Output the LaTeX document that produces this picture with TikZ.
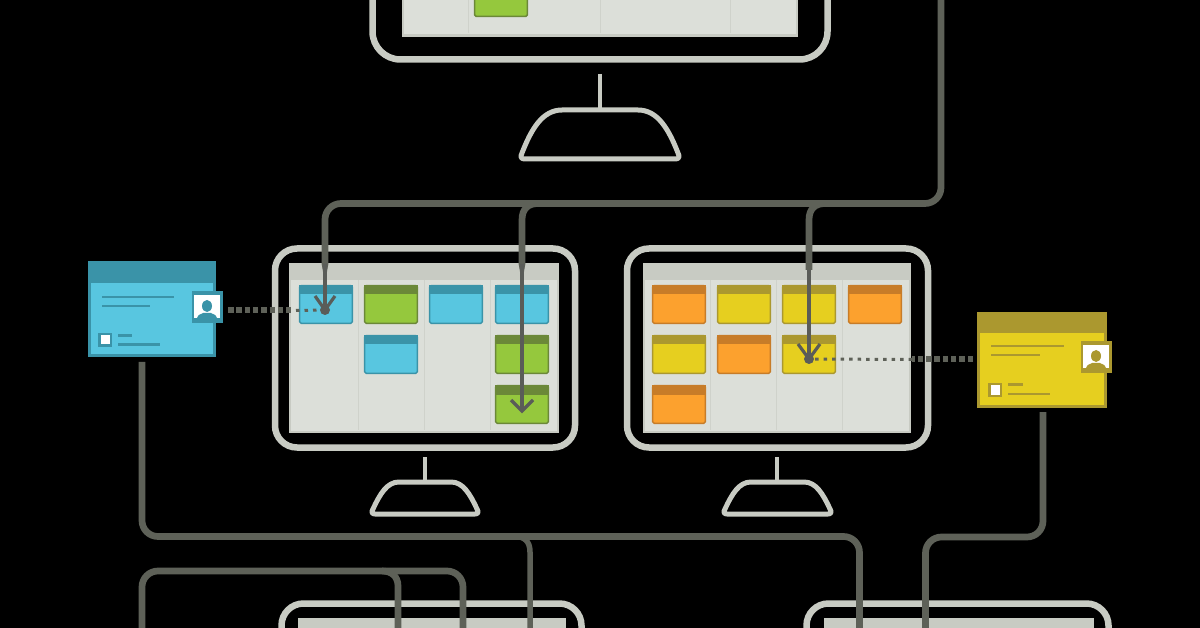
\documentclass[tikz,border=0pt]{standalone}
\definecolor{bluefill}{HTML}{58C6E0}
\definecolor{bluehead}{HTML}{3A93A8}
\definecolor{greenfill}{HTML}{95C83D}
\definecolor{greenhead}{HTML}{6B8838}
\definecolor{orangefill}{HTML}{FCA12E}
\definecolor{orangehead}{HTML}{C77C28}
\definecolor{yellowfill}{HTML}{E6CF1F}
\definecolor{yellowhead}{HTML}{AB982F}
\definecolor{framecol}{HTML}{C8CBC3}
\definecolor{screencol}{HTML}{DCDFD9}
\definecolor{divcol}{HTML}{CFD2CB}
\definecolor{linecol}{HTML}{5E6158}
\definecolor{thincol}{HTML}{5A5C58}
\tikzset{
  x=1pt,y=-1pt,
  framebox/.style={draw=framecol,line width=6.5pt,rounded corners=22pt},
  standline/.style={draw=framecol,line width=5pt,line join=round},
  stemline/.style={draw=framecol,line width=3.5pt},
  conn/.style={draw=linecol,line width=6.7pt,rounded corners=16pt},
  branch/.style={draw=linecol,line width=6.7pt,sharp corners},
  connthin/.style={draw=thincol,line width=3.5pt},
  chevron/.style={draw=thincol,line width=3.2pt,line join=miter},
  dotthick/.style={draw=linecol,line width=6pt,dash pattern=on 5.5pt off 2.8pt},
  dotthin/.style={draw=linecol,line width=3pt,dash pattern=on 3.5pt off 5pt},
  pin/.style={circle,fill=thincol,inner sep=0pt,minimum size=10pt},
}
\newcommand{\kscreen}[4]{%
  \fill[screencol] (#1,#2) rectangle (#3,#4);
  \fill[framecol] (#1,#2) rectangle (#3,#2+16);
  \draw[framecol,line width=2.5pt] (#1+1.2,#2) rectangle (#3-1.2,#4-1.2);
}
\newcommand{\kcard}[3]{%
  \fill[rounded corners=1.5pt,#3fill,draw=#3head,line width=1.5pt] (#1+.7,#2+.7) rectangle (#1+53.3,#2+38.3);
  \fill[#3head] (#1,#2) rectangle (#1+54,#2+9.5);
}
\newcommand{\kbig}[6]{%
  \fill[#6fill,draw=#6head,line width=3pt] (#1+1.5,#2+1.5) rectangle (#3-1.5,#4-1.5);
  \fill[#6head] (#1,#2) rectangle (#3,#5);
}
% avatar: x1 y1 x2 y2 colour centre-x
\newcommand{\kavatar}[6]{%
  \fill[#5head] (#1,#2) rectangle (#3,#4);
  \fill[white] (#1+2,#2+4) rectangle (#3-3,#4-5);
  \fill[#5head] (#6,#2+15) ellipse (5pt and 6pt);
  \fill[#5head] (#6-10,#4-5) .. controls (#6-9,#4-9) and (#6-5,#4-9) .. (#6-4,#4-10) -- (#6+4,#4-10) .. controls (#6+5,#4-9) and (#6+9,#4-9) .. (#6+10,#4-5) -- cycle;
}
% taper: x y
\newcommand{\ktaper}[2]{\fill[linecol] (#1-3.35,#2) -- (#1+3.35,#2) -- (#1+1.75,#2+9) -- (#1-1.75,#2+9) -- cycle;}
\begin{document}
\begin{tikzpicture}
\useasboundingbox (0,0) rectangle (1200,628);
\fill[black] (0,0) rectangle (1200,628);

% ---- top monitor
\kscreen{402}{-60}{798}{36.5}
\foreach \d in {468,600,730} \draw[divcol,line width=1pt] (\d,-5) -- (\d,33);
\fill[rounded corners=1.5pt,greenfill,draw=greenhead,line width=1.5pt] (474.7,-10) rectangle (527.3,16.5);
\draw[framebox,rounded corners=28pt] (372.5,-60) rectangle (827.5,59.5);
\draw[stemline] (600,74) -- (600,109);
\draw[standline] (562,110) .. controls (542,110) and (531,130) .. (522,153) .. controls (520,157) and (521,159) .. (525,159) -- (675,159) .. controls (679,159) and (680,157) .. (678,153) .. controls (669,130) and (658,110) .. (638,110) -- cycle;

% ---- left monitor
\kscreen{289}{264}{559}{433}
\foreach \d in {358,424,490} \draw[divcol,line width=1pt] (\d,280) -- (\d,430);
\kcard{299}{285}{blue}
\kcard{364}{285}{green}
\kcard{429}{285}{blue}
\kcard{495}{285}{blue}
\kcard{364}{335}{blue}
\kcard{495}{335}{green}
\kcard{495}{385}{green}
\draw[framebox] (275,248.5) rectangle (575,447.5);
\draw[stemline] (425,457) -- (425,481);
\draw[standline] (399,482) .. controls (387,482) and (380,494) .. (373,509) .. controls (371,512) and (372,514) .. (375,514) -- (475,514) .. controls (478,514) and (479,512) .. (477,509) .. controls (470,494) and (463,482) .. (451,482) -- cycle;

% ---- right monitor
\kscreen{643}{264}{911}{433}
\foreach \d in {710,776,842} \draw[divcol,line width=1pt] (\d,280) -- (\d,430);
\kcard{652}{285}{orange}
\kcard{717}{285}{yellow}
\kcard{782}{285}{yellow}
\kcard{848}{285}{orange}
\kcard{652}{335}{yellow}
\kcard{717}{335}{orange}
\kcard{782}{335}{yellow}
\kcard{652}{385}{orange}
\draw[framebox] (627,248.5) rectangle (928,447.5);
\draw[stemline] (777,457) -- (777,481);
\draw[standline] (751,482) .. controls (739,482) and (732,494) .. (725,509) .. controls (723,512) and (724,514) .. (727,514) -- (828,514) .. controls (831,514) and (832,512) .. (830,509) .. controls (823,494) and (816,482) .. (804,482) -- cycle;

% ---- bottom monitors
\fill[framecol] (298,618) rectangle (566,640);
\draw[framebox] (281.5,603.5) rectangle (581.5,700);
\fill[framecol] (824,618) rectangle (1094,640);
\draw[framebox] (806.5,603.5) rectangle (1108.5,700);

% ---- large cards
\kbig{88}{261}{216}{357}{283}{blue}
\draw[bluehead,line width=2.2pt] (102,297) -- (174,297) (102,306) -- (150,306) (118,335.5) -- (132,335.5) (118,344.5) -- (160,344.5);
\fill[bluehead] (98,333) rectangle (112,347);
\fill[white] (100.5,335.5) rectangle (109.5,344.5);
\kavatar{192}{291}{223}{323}{blue}{207}

\kbig{977}{312}{1107}{408}{333}{yellow}
\draw[yellowhead,line width=2.2pt] (991,346) -- (1064,346) (991,355) -- (1040,355) (1008,384.5) -- (1023,384.5) (1008,394) -- (1050,394);
\fill[yellowhead] (988,383) rectangle (1002,397);
\fill[white] (990.5,385.5) rectangle (999.5,394.5);
\kavatar{1081}{341}{1112}{373}{yellow}{1096}

% ---- named connector points
\coordinate (topstart) at (941,-5);
\coordinate (busA) at (941,203.5);
\coordinate (leftIn) at (325,264);
\coordinate (leftEnd) at (325,310);
\coordinate (midIn) at (522,264);
\coordinate (midEnd) at (522,411);
\coordinate (rightIn) at (809,270);
\coordinate (rightEnd) at (809,359);
\coordinate (blueOut) at (142,362);
\coordinate (busB) at (142,536.5);
\coordinate (busBend) at (859.5,630);
\coordinate (busBmidEnd) at (530,630);
\coordinate (yelOut) at (1043,412);
\coordinate (busC) at (1043,537);
\coordinate (busCend) at (925.5,630);
\coordinate (loopStart) at (142,630);
\coordinate (loopTop) at (142,571);
\coordinate (loopEnd) at (463,630);
\coordinate (loopMidEnd) at (398,630);

% ---- connectors
\draw[conn] (topstart) -- (busA) -- (325,203.5) -- (leftIn);
\draw[branch] (538,203.5) .. controls (528,203.5) and (522,209) .. (522,220) -- (midIn);
\draw[branch] (825,203.5) .. controls (815,203.5) and (809,209) .. (809,220) -- (rightIn);
\ktaper{325}{264}
\ktaper{522}{264}
\draw[connthin] (leftIn) -- (leftEnd);
\draw[connthin] (midIn) -- (midEnd);
\draw[connthin,line width=4.2pt] (rightIn) -- (rightEnd);
\draw[chevron] (315,296) -- (leftEnd) -- (335,296);
\node[pin] (leftPin) at (leftEnd) {};
\draw[chevron] (511,400) -- (midEnd) -- (533,400);
\draw[chevron] (798,344) -- (rightEnd) -- (820,344);
\node[pin] (rightPin) at (rightEnd) {};

\draw[conn] (blueOut) -- (busB) -- (859.5,536.5) -- (busBend);
\draw[branch,line width=5.5pt] (515,536.5) .. controls (524,536.5) and (530,541) .. (530,552) -- (busBmidEnd);
\draw[conn] (yelOut) -- (busC) -- (925.5,537) -- (busCend);
\draw[conn] (loopStart) -- (loopTop) -- (463,571) -- (loopEnd);
\draw[branch] (382,571) .. controls (391,571) and (398,576) .. (398,586) -- (loopMidEnd);

% ---- assignment dots
\coordinate (blueAv) at (228,310.5);
\coordinate (blueMid) at (291,310.5);
\coordinate (yelAv) at (973,359.5);
\coordinate (yelMid) at (912,359.5);
\draw[dotthick] (blueAv) -- (blueMid);
\draw[dotthin] (296,310.5) -- (leftPin);
\draw[dotthick] (yelAv) -- (yelMid);
\draw[dotthin] (yelMid) -- (rightPin);
\end{tikzpicture}
\end{document}
